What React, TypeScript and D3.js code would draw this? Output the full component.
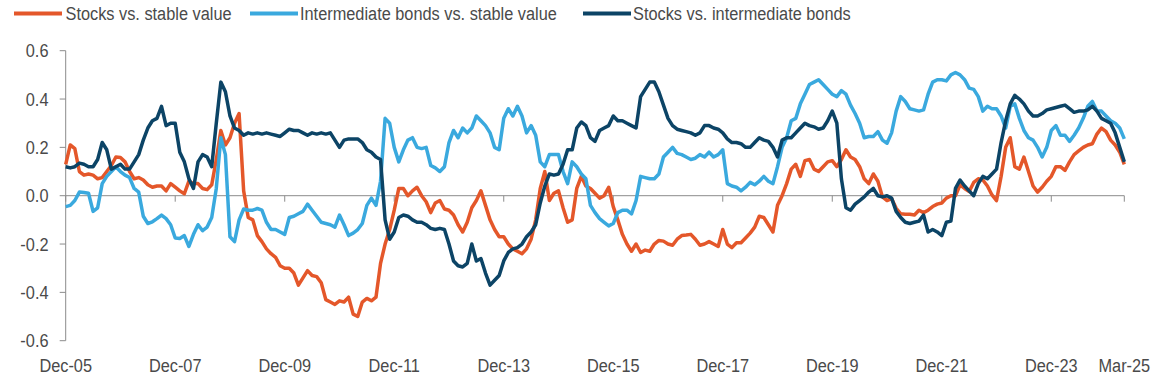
import React from "react";
import * as d3 from "d3";

// Monthly observations, Dec-05 (index 0) through Mar-25 (index 232)
const stocksVsStable: number[] = [
  0.13, 0.21, 0.195, 0.1, 0.085, 0.09, 0.085, 0.07, 0.075, 0.1,
  0.125, 0.16, 0.158, 0.14, 0.1, 0.07, 0.075, 0.065, 0.045, 0.035,
  0.04, 0.04, 0.02, 0.05, 0.035, 0.02, 0.008, 0.06, 0.05, 0.05,
  0.03, 0.025, 0.045, 0.15, 0.27, 0.21, 0.24, 0.3, 0.34, 0.02,
  -0.09, -0.1, -0.165, -0.19, -0.22, -0.24, -0.255, -0.29, -0.3, -0.3,
  -0.32, -0.37, -0.34, -0.31, -0.33, -0.335, -0.36, -0.43, -0.44, -0.45,
  -0.435, -0.44, -0.42, -0.49, -0.5, -0.44, -0.425, -0.435, -0.42, -0.28,
  -0.2, -0.14, -0.06, 0.03, 0.03, 0.0, 0.02, 0.035, 0.0, -0.025,
  -0.07, -0.03, -0.02, -0.055, -0.06, -0.08, -0.12, -0.15, -0.11, -0.05,
  -0.02, 0.02, -0.04, -0.1, -0.14, -0.17, -0.17, -0.2, -0.22, -0.23,
  -0.24, -0.22, -0.18, -0.1, 0.03, 0.1, -0.02, 0.01, 0.02, -0.05,
  -0.11, -0.1, 0.03, 0.08, 0.04, 0.03, 0.01, -0.01, 0.0, 0.035,
  -0.045, -0.1, -0.16, -0.2, -0.23, -0.2, -0.235, -0.225, -0.23, -0.2,
  -0.185, -0.188, -0.2, -0.205, -0.18, -0.165, -0.163, -0.16, -0.18, -0.205,
  -0.2, -0.19, -0.2, -0.21, -0.14, -0.2, -0.215, -0.195, -0.195, -0.175,
  -0.155, -0.13, -0.085, -0.09, -0.12, -0.15, -0.04, 0.0, 0.05, 0.11,
  0.13, 0.08, 0.145, 0.15, 0.11, 0.1, 0.12, 0.14, 0.145, 0.12,
  0.15, 0.19, 0.16, 0.15, 0.12, 0.07, 0.05, 0.09, 0.06, -0.005,
  -0.02, -0.012, -0.052, -0.075, -0.077, -0.077, -0.08, -0.06, -0.07, -0.06,
  -0.045, -0.035, -0.03, -0.01, 0.0, 0.0, 0.045, 0.03, 0.017, 0.055,
  0.07, 0.065, 0.04, 0.003, -0.02, 0.08, 0.2, 0.24, 0.12, 0.11,
  0.16, 0.1, 0.04, 0.015, 0.035, 0.06, 0.08, 0.12, 0.12, 0.105,
  0.14, 0.17, 0.185, 0.2, 0.21, 0.215, 0.255, 0.28, 0.265, 0.23,
  0.21, 0.18, 0.13,
];

const bondsVsStable: number[] = [
  -0.045, -0.04, -0.02, 0.015, 0.013, 0.01, -0.065, -0.05, 0.05, 0.08,
  0.1, 0.12, 0.1, 0.085, 0.075, 0.03, 0.015, -0.085, -0.115, -0.108,
  -0.095, -0.08, -0.095, -0.12, -0.175, -0.177, -0.165, -0.21, -0.16, -0.12,
  -0.145, -0.13, -0.09, 0.03, 0.24, 0.17, -0.17, -0.19, -0.1, -0.055,
  -0.06, -0.06, -0.053, -0.06, -0.11, -0.14, -0.14, -0.15, -0.16, -0.09,
  -0.085, -0.075, -0.065, -0.035, -0.06, -0.085, -0.11, -0.115, -0.12, -0.13,
  -0.08, -0.12, -0.165, -0.155, -0.14, -0.115, -0.04, -0.01, -0.04, 0.06,
  0.32, 0.3, 0.2, 0.14, 0.19, 0.23, 0.24, 0.2, 0.195, 0.2,
  0.125, 0.115, 0.1, 0.12, 0.22, 0.27, 0.24, 0.28, 0.26, 0.28,
  0.33, 0.31, 0.29, 0.26, 0.2, 0.19, 0.32, 0.36, 0.33, 0.37,
  0.33, 0.26, 0.29, 0.25, 0.14, 0.12, 0.17, 0.17, 0.17, 0.1,
  0.05, 0.14, 0.12, 0.09, 0.07, -0.04, -0.07, -0.095, -0.11, -0.125,
  -0.115, -0.07, -0.06, -0.06, -0.075, -0.02, 0.08, 0.075, 0.07, 0.07,
  0.09, 0.16, 0.18, 0.2, 0.175, 0.17, 0.16, 0.15, 0.155, 0.17,
  0.16, 0.18, 0.16, 0.17, 0.19, 0.05, 0.04, 0.035, 0.02, 0.035,
  0.055, 0.045, 0.06, 0.08, 0.06, 0.05, 0.12, 0.2, 0.24, 0.31,
  0.32, 0.38, 0.42, 0.46, 0.47, 0.48, 0.46, 0.44, 0.42, 0.41,
  0.435, 0.42, 0.375, 0.34, 0.3, 0.24, 0.245, 0.245, 0.265, 0.23,
  0.217, 0.26, 0.35, 0.41, 0.39, 0.36, 0.355, 0.35, 0.355, 0.42,
  0.47, 0.48, 0.48, 0.475, 0.5, 0.51, 0.5, 0.48, 0.445, 0.44,
  0.41, 0.35, 0.37, 0.36, 0.36, 0.33, 0.28, 0.37, 0.38, 0.32,
  0.27, 0.24, 0.23, 0.2, 0.16, 0.2, 0.27, 0.29, 0.25, 0.25,
  0.225, 0.25, 0.28, 0.32, 0.37, 0.39, 0.35, 0.35, 0.33, 0.31,
  0.3, 0.28, 0.235,
];

const stocksVsBonds: number[] = [
  0.12, 0.115, 0.12, 0.135, 0.13, 0.12, 0.12, 0.15, 0.22, 0.19,
  0.11, 0.12, 0.13, 0.11, 0.11, 0.14, 0.17, 0.23, 0.28, 0.31,
  0.32, 0.37, 0.29, 0.3, 0.3, 0.18, 0.14, 0.07, 0.03, 0.14,
  0.17, 0.16, 0.12, 0.3, 0.47, 0.43, 0.33, 0.28, 0.27, 0.25,
  0.26, 0.255, 0.26, 0.255, 0.26, 0.255, 0.25, 0.245, 0.26, 0.275,
  0.27, 0.27, 0.26, 0.25, 0.26, 0.255, 0.26, 0.255, 0.26, 0.23,
  0.2, 0.23, 0.235, 0.235, 0.235, 0.22, 0.19, 0.18, 0.16, 0.15,
  -0.1, -0.18, -0.15, -0.09, -0.08, -0.085, -0.1, -0.11, -0.11, -0.12,
  -0.135, -0.14, -0.135, -0.14, -0.2, -0.27, -0.29, -0.295, -0.28, -0.2,
  -0.27, -0.26, -0.32, -0.37, -0.35, -0.33, -0.27, -0.235, -0.22, -0.215,
  -0.2, -0.17, -0.15, -0.12, -0.03, 0.04, 0.09, 0.085, 0.09, 0.13,
  0.19, 0.19, 0.28, 0.305, 0.29, 0.24, 0.225, 0.27, 0.28, 0.29,
  0.33, 0.31, 0.31, 0.3, 0.29, 0.28, 0.41, 0.44, 0.47, 0.47,
  0.43, 0.375, 0.32, 0.29, 0.275, 0.27, 0.265, 0.26, 0.25, 0.26,
  0.29, 0.29, 0.28, 0.275, 0.26, 0.235, 0.22, 0.22, 0.215, 0.2,
  0.2, 0.22, 0.24, 0.23, 0.225, 0.2, 0.16, 0.23, 0.24, 0.24,
  0.26, 0.28, 0.3, 0.29, 0.285, 0.275, 0.28, 0.31, 0.35, 0.3,
  0.07, -0.05, -0.06, -0.035, -0.02, -0.005, 0.015, 0.03, 0.0, -0.005,
  0.0, -0.01, -0.065, -0.09, -0.11, -0.115, -0.11, -0.105, -0.08, -0.15,
  -0.14, -0.15, -0.165, -0.11, -0.105, 0.03, 0.065, 0.04, 0.02, 0.0,
  0.05, 0.08, 0.07, 0.09, 0.11, 0.22, 0.31, 0.38, 0.415, 0.4,
  0.38, 0.35, 0.33, 0.33, 0.34, 0.355, 0.36, 0.365, 0.37, 0.375,
  0.36, 0.345, 0.35, 0.35, 0.355, 0.37, 0.35, 0.32, 0.31, 0.3,
  0.26, 0.2, 0.14,
];

const seriesNames = [
  "Stocks vs. stable value",
  "Intermediate bonds vs. stable value",
  "Stocks vs. intermediate bonds",
];
const seriesColors = ["#E4572A", "#3AA9DE", "#0C4466"];

const xTickIndex = [0, 24, 48, 72, 96, 120, 144, 168, 192, 216, 232];
const xTickLabels = [
  "Dec-05", "Dec-07", "Dec-09", "Dec-11", "Dec-13", "Dec-15",
  "Dec-17", "Dec-19", "Dec-21", "Dec-23", "Mar-25",
];
const yTicks = [-0.6, -0.4, -0.2, 0, 0.2, 0.4, 0.6];

const W = 1153;
const H = 381;
const FONT = "'Liberation Sans', Arial, sans-serif";
const FS = 19;
const SX = 0.86;
const TEXT = "#4a4a4a";
const AXIS = "#8C8C8C";

function Label(props: {
  x: number;
  y: number;
  anchor?: "start" | "middle" | "end";
  dy?: string;
  children: React.ReactNode;
}) {
  return (
    <text
      transform={`translate(${props.x},${props.y}) scale(${SX},1)`}
      textAnchor={props.anchor || "start"}
      dy={props.dy}
      fontSize={FS}
      fill={TEXT}
    >
      {props.children}
    </text>
  );
}

export default function App() {
  const allSeries = [stocksVsStable, bondsVsStable, stocksVsBonds];
  const x = d3.scaleLinear().domain([0, 232]).range([65.7, 1124.3]);
  const y = d3.scaleLinear().domain([-0.6, 0.6]).range([340.7, 50.7]);
  const line = d3
    .line<number>()
    .x((_, i) => x(i))
    .y((d) => y(d));

  const legendSwatchX = [14, 250, 583];
  const legendTextX = [65.5, 300, 633];

  return (
    <svg
      width={W}
      height={H}
      style={{ position: "absolute", left: 0, top: 0, background: "#fff" }}
      fontFamily={FONT}
    >
      {/* legend */}
      {seriesNames.map((n, k) => (
        <g key={n}>
          <line
            x1={legendSwatchX[k]}
            x2={legendSwatchX[k] + 48}
            y1={13.5}
            y2={13.5}
            stroke={seriesColors[k]}
            strokeWidth={4}
          />
          <Label x={legendTextX[k]} y={20}>
            {n}
          </Label>
        </g>
      ))}

      {/* y axis */}
      <line x1={x(0)} x2={x(0)} y1={y(0.6)} y2={y(-0.6)} stroke={AXIS} strokeWidth={1} />
      {yTicks.map((t) => (
        <g key={t}>
          <line x1={x(0) - 6} x2={x(0)} y1={y(t)} y2={y(t)} stroke={AXIS} strokeWidth={1} />
          <Label x={48.5} y={y(t)} dy="0.35em" anchor="end">
            {t.toFixed(1)}
          </Label>
        </g>
      ))}

      {/* x axis at zero */}
      <line x1={x(0)} x2={x(232)} y1={y(0)} y2={y(0)} stroke={AXIS} strokeWidth={1} />
      {xTickIndex.map((ti, k) => (
        <g key={ti}>
          <line x1={x(ti)} x2={x(ti)} y1={y(0)} y2={y(0) + 6} stroke={AXIS} strokeWidth={1} />
          <Label x={x(ti)} y={372.3} anchor="middle">
            {xTickLabels[k]}
          </Label>
        </g>
      ))}

      {/* series */}
      {allSeries.map((s, k) => (
        <path
          key={k}
          d={line(s) || ""}
          fill="none"
          stroke={seriesColors[k]}
          strokeWidth={3.5}
          strokeLinejoin="round"
        />
      ))}
    </svg>
  );
}
